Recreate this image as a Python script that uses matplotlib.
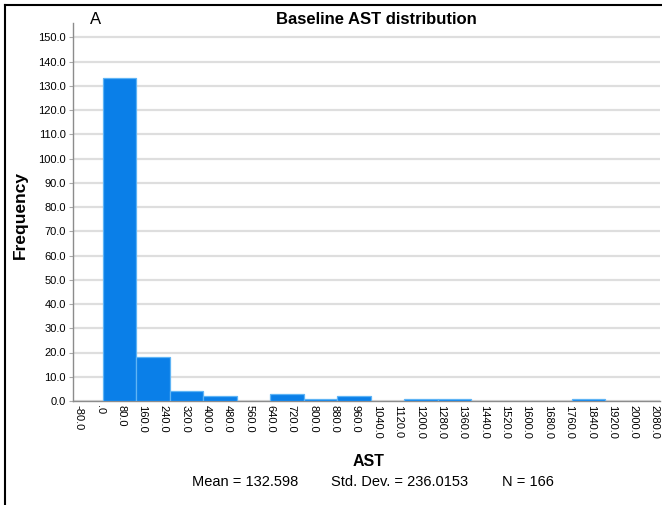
import matplotlib
matplotlib.use("Agg")
import matplotlib.pyplot as plt
from matplotlib.lines import Line2D
import numpy as np

plt.rcParams['font.family'] = ['Liberation Sans', 'DejaVu Sans']

# Data
counts = [133, 18, 4, 2, 0, 3, 1, 2, 0, 1, 1, 0, 0, 0, 1]
bin_start = 12.0
bin_width = 125.5
x_ticks = list(range(-80, 2081, 80))
y_ticks = list(range(0, 151, 10))
title = "Baseline AST distribution"
stats = ["Mean = 132.598", "Std. Dev. = 236.0153", "N = 166"]

W, H = 662, 505
fig = plt.figure(figsize=(W / 100, H / 100), dpi=100)
ax = fig.add_axes([73 / W, 1 - 401 / H, (660 - 73) / W, (401 - 22.7) / H])

cnt = np.array(counts)
edges = bin_start + bin_width * np.arange(len(counts))
nz = cnt > 0
ax.bar(edges[nz], cnt[nz], width=bin_width, align='edge', color='#0a7fe8',
       edgecolor='#5fb4f5', linewidth=0.9, zorder=3)

ax.set_xlim(-100, 2100)
ax.set_ylim(0, 156)

ax.set_yticks(y_ticks)
ax.set_yticklabels([f"{v:.1f}" for v in y_ticks], fontsize=8)
ax.set_xticks(x_ticks)
ax.set_xticklabels([(".0" if v == 0 else f"{v:.1f}") for v in x_ticks],
                   rotation=-90, fontsize=8, va='top', ha='center')
ax.tick_params(axis='x', length=0, pad=3)
ax.tick_params(axis='y', length=3, color='#aaaaaa', pad=2)

ax.grid(axis='y', color='#dedede', linewidth=1.6, zorder=0)
ax.set_axisbelow(True)
for s in ['top', 'right']:
    ax.spines[s].set_visible(False)
for s in ['left', 'bottom']:
    ax.spines[s].set_color('#8c8c8c')
    ax.spines[s].set_linewidth(1.0)

fig.text(376 / W, 1 - 19 / H, title, fontsize=12, fontweight='bold',
         ha='center', va='center')
fig.text(90 / W, 1 - 19 / H, "A", fontsize=12, ha='left', va='center')
fig.text(20 / W, 1 - 215 / H, "Frequency", fontsize=12.5, fontweight='bold',
         rotation=90, ha='center', va='center')
fig.text(369 / W, 1 - 462 / H, "AST", fontsize=11.5, fontweight='bold',
         ha='center', va='center')
for xs, s in zip([192, 331, 502], stats):
    fig.text(xs / W, 1 - 482 / H, s, fontsize=10.5, ha='left', va='center')

# figure frame (left and top edges)
fig.add_artist(Line2D([5 / W, 5 / W], [0, 1 - 5 / H], transform=fig.transFigure,
                      color='black', linewidth=1.5))
fig.add_artist(Line2D([5 / W, 1], [1 - 5 / H, 1 - 5 / H], transform=fig.transFigure,
                      color='black', linewidth=1.5))

fig.savefig("out.png", dpi=100)
